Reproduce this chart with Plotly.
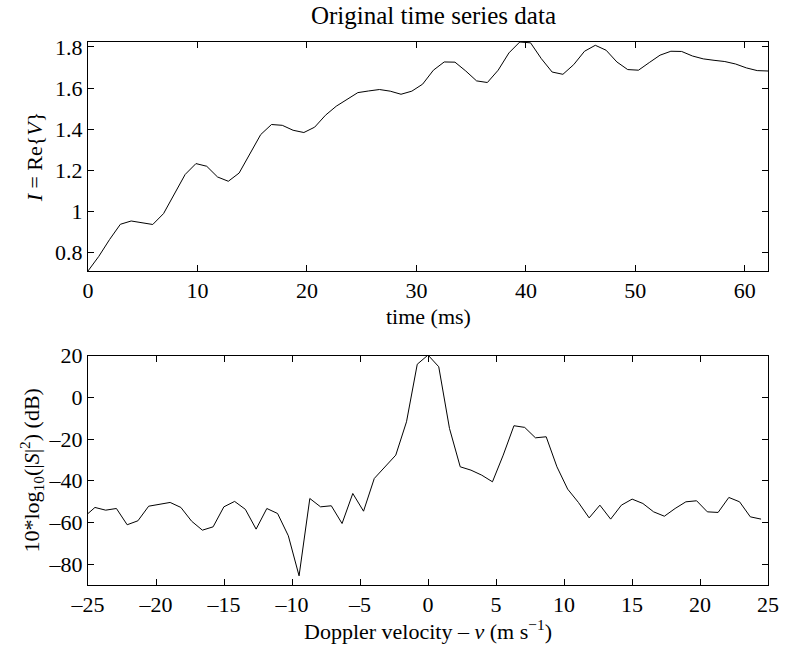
import numpy as np
import plotly.graph_objects as go
from plotly.subplots import make_subplots

# ---- data ----
dt_ms = 0.986
intensity = [0.711, 0.782, 0.864, 0.938, 0.954, 0.944, 0.937, 0.990, 1.084, 1.180,
             1.233, 1.220, 1.168, 1.147, 1.187, 1.282, 1.374, 1.423, 1.419, 1.395,
             1.384, 1.410, 1.468, 1.512, 1.546, 1.578, 1.586, 1.593, 1.585, 1.570,
             1.585, 1.619, 1.687, 1.727, 1.726, 1.683, 1.635, 1.627, 1.687, 1.771,
             1.824, 1.820, 1.743, 1.678, 1.667, 1.714, 1.779, 1.808, 1.784, 1.727,
             1.690, 1.687, 1.724, 1.760, 1.779, 1.778, 1.756, 1.742, 1.735, 1.729,
             1.717, 1.698, 1.685, 1.683]
time_ms = [k * dt_ms for k in range(len(intensity))]

dv = 0.79
spectrum_db = [-57.3, -52.8, -54.1, -53.3, -61.1, -59.2, -52.2, -51.3, -50.4, -52.8,
               -59.4, -63.7, -62.1, -52.5, -49.9, -53.7, -63.2, -53.3, -55.7, -66.4,
               -85.6, -48.5, -52.5, -52.0, -60.5, -46.1, -54.6, -38.9, -33.3, -27.7,
               -11.7, 15.9, 20.3, 14.7, -14.9, -33.3, -34.9, -37.3, -40.5, -27.7,
               -13.6, -14.4, -19.4, -18.9, -33.3, -44.0, -50.4, -57.8, -51.7, -58.4,
               -51.7, -48.8, -50.9, -54.9, -57.0, -53.3, -50.1, -49.6, -54.9, -55.2,
               -48.0, -50.1, -57.3, -58.4]
velocity = [(k - 32) * dv for k in range(len(spectrum_db))]

top_xticks = [0, 10, 20, 30, 40, 50, 60]
top_yticks = [0.8, 1.0, 1.2, 1.4, 1.6, 1.8]
top_yticktext = ["0.8", "1", "1.2", "1.4", "1.6", "1.8"]
bot_xticks = [-25, -20, -15, -10, -5, 0, 5, 10, 15, 20, 25]
bot_xticktext = ["\u201325", "\u201320", "\u201315", "\u201310", "\u20135", "0", "5", "10", "15", "20", "25"]
bot_yticks = [-80, -60, -40, -20, 0, 20]
bot_yticktext = ["\u201380", "\u201360", "\u201340", "\u201320", "0", "20"]

FONT = "Liberation Serif, Times New Roman, serif"
TS = 22

fig = make_subplots(rows=2, cols=1, vertical_spacing=0.0)
fig.add_trace(go.Scatter(x=time_ms, y=intensity, mode="lines",
                         line=dict(color="black", width=1), showlegend=False), row=1, col=1)
fig.add_trace(go.Scatter(x=velocity, y=spectrum_db, mode="lines",
                         line=dict(color="black", width=1), showlegend=False), row=2, col=1)

axis_common = dict(showline=True, linecolor="black", linewidth=1, mirror="allticks",
                   ticks="inside", ticklen=6, tickcolor="black", tickwidth=1,
                   showgrid=False, zeroline=False,
                   tickfont=dict(family=FONT, size=TS, color="black"))

fig.update_layout(
    width=791, height=653,
    margin=dict(l=88, r=12, t=42, b=68),
    paper_bgcolor="white", plot_bgcolor="white",
    font=dict(family=FONT, size=TS, color="black"),
    title=dict(text="Original time series data", x=0.548, xanchor="center",
               y=1 - 15 / 653, yanchor="middle",
               font=dict(family=FONT, size=25, color="black")),
)

fig.update_xaxes(axis_common, row=1, col=1)
fig.update_xaxes(axis_common, row=2, col=1)
fig.update_yaxes(axis_common, row=1, col=1)
fig.update_yaxes(axis_common, row=2, col=1)

fig.update_layout(
    xaxis=dict(domain=[0, 1], range=[0, 63 * dt_ms], tickvals=top_xticks, anchor="y"),
    yaxis=dict(domain=[0.5783, 1.0], range=[0.711, 1.824], tickvals=top_yticks,
               ticktext=top_yticktext, anchor="x",
               title=dict(text="<i>I</i> = Re{<i>V</i>}", standoff=6,
                          font=dict(family=FONT, size=TS))),
    xaxis2=dict(domain=[0, 1], range=[-25, 25], tickvals=bot_xticks, ticktext=bot_xticktext,
                anchor="y2"),
    yaxis2=dict(domain=[0.0, 0.4223], range=[-90, 20], tickvals=bot_yticks,
                ticktext=bot_yticktext, anchor="x2",
                title=dict(text="10*log<sub>10</sub>(|<i>S</i>|<sup>2</sup>) (dB)", standoff=2,
                           font=dict(family=FONT, size=TS))),
)

fig.add_annotation(text="time (ms)", xref="paper", yref="paper", x=0.5, y=(585 - 316) / 543,
                   xanchor="center", yanchor="middle", showarrow=False,
                   font=dict(family=FONT, size=TS, color="black"))
fig.add_annotation(text="Doppler velocity \u2013 <i>v</i> (m s<sup>\u22121</sup>)",
                   xref="paper", yref="paper", x=0.5, y=(585 - 630) / 543,
                   xanchor="center", yanchor="middle", showarrow=False,
                   font=dict(family=FONT, size=TS, color="black"))

fig.write_html("out.html")
